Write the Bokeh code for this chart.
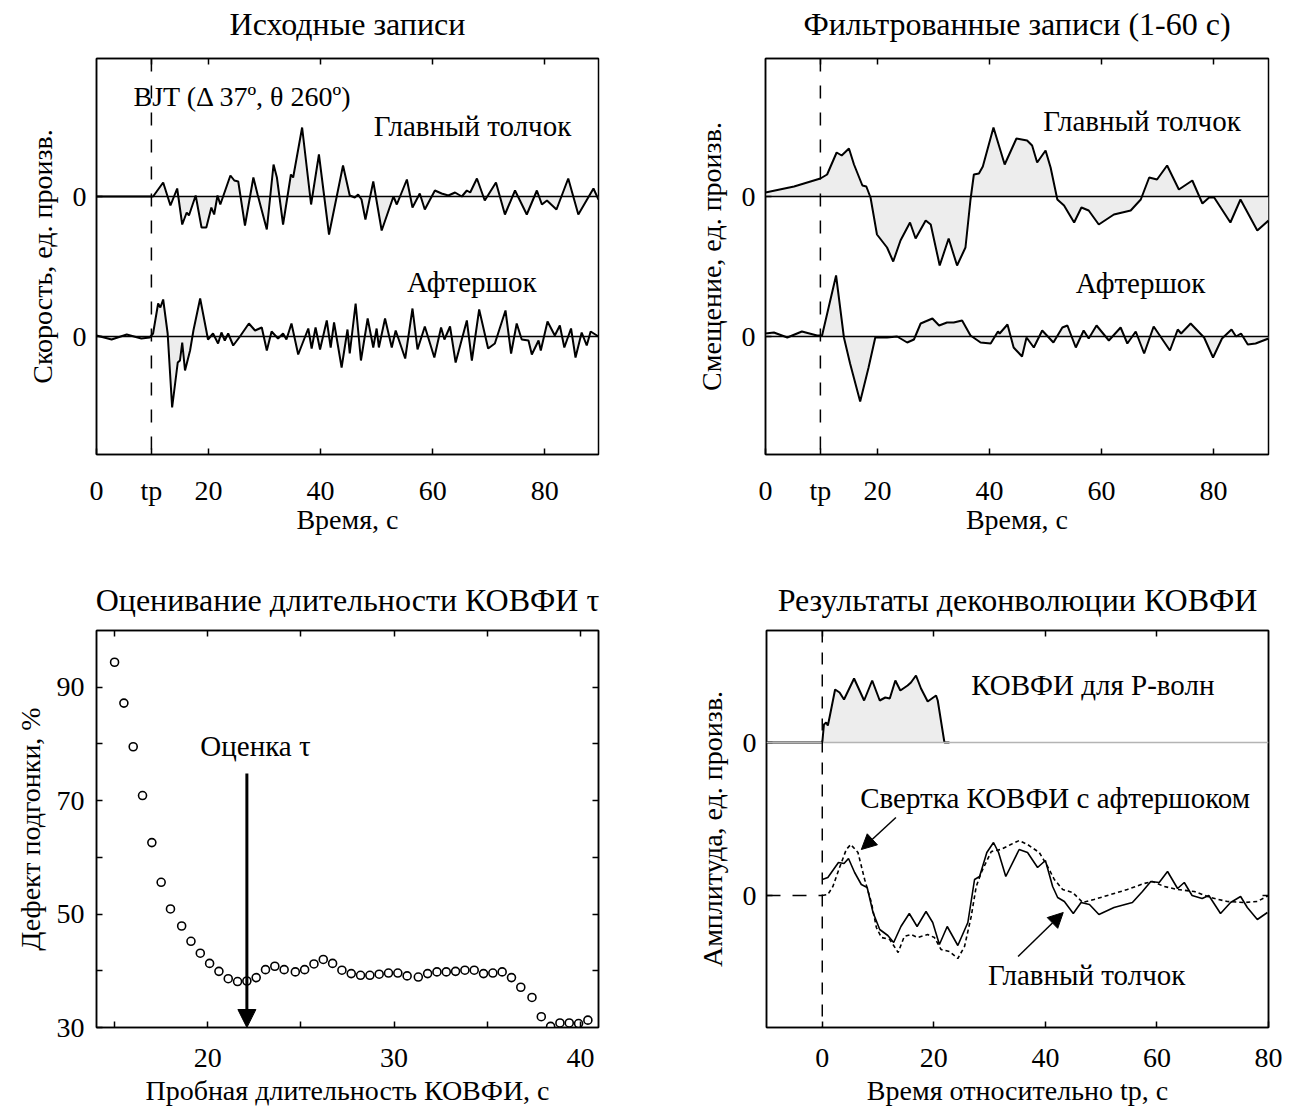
from bokeh.plotting import figure
from bokeh.layouts import row, column
from bokeh.models import Range1d, FixedTicker, LinearAxis, Span, Label, Arrow, NormalHead
from bokeh.embed import file_html
from bokeh.resources import INLINE

FONT = "Liberation Serif"
TP = 9.8          # P-wave arrival time, s
MAIN_OFF = 1.4    # vertical offset of the main-shock trace (top panels)
STF_OFF = 1.53    # vertical offset of the STF trace (bottom-right panel)
TAU_EST = 22.1    # estimated STF duration, s
FILL = "#ededed"

TITLES = ["Исходные записи", "Фильтрованные записи (1-60 с)",
          "Оценивание длительности КОВФИ τ", "Результаты деконволюции КОВФИ"]

# ---------------- Panel 1: raw records (velocity) ----------------
raw_main_t = [0, 9.5, 10.1, 11.9, 13.2, 14.4, 15.3, 16.1, 16.5, 17.7, 18.75, 19.6, 20.5, 21.0, 21.6, 22.1,
              23.9, 24.6, 25.3, 26.5, 28.0, 28.75, 30.4, 31.6, 32.2, 33.3, 34.7, 35.1, 36.7, 38.3, 39.7,
              41.5, 44.0, 45.2, 46.1, 46.7, 47.3, 48.0, 49.4, 50.9, 53.0, 53.6, 55.4, 56.4, 57.7, 58.6,
              60.4, 61.6, 62.8, 64.0, 65.2, 66.1, 66.7, 67.9, 69.3, 71.3, 72.9, 74.7, 76.8, 78.6, 79.5,
              80.4, 82.1, 84.2, 86.0, 88.7, 89.6]
raw_main_v = [0, 0, 0, 0.14, -0.09, 0.08, -0.28, -0.16, -0.19, 0.01, -0.31, -0.31, -0.11, -0.18, 0.01, -0.08,
              0.21, 0.16, 0.15, -0.29, 0.19, 0.02, -0.33, 0.32, 0.19, -0.28, 0.22, 0.19, 0.69, -0.08, 0.42,
              -0.38, 0.31, 0.01, -0.01, 0.02, -0.03, -0.23, 0.15, -0.34, 0.0, -0.08, 0.17, -0.11, 0.03, -0.13,
              0.06, 0.03, 0.01, 0.04, 0.0, 0.06, 0.04, 0.18, -0.04, 0.14, -0.18, 0.06, -0.18, 0.06, -0.08,
              -0.04, -0.13, 0.18, -0.18, 0.08, -0.03]

raw_after_t = [0, 2.7, 5.4, 8.0, 9.5, 10.1, 11.0, 11.4, 11.9, 12.7, 13.5, 14.5, 14.9, 15.3, 15.8, 16.7, 17.3,
               18.5, 19.6, 19.9, 20.8, 21.7, 22.3, 22.9, 23.5, 24.4, 25.6, 27.2, 28.3, 29.5, 30.4, 31.25,
               32.4, 33.3, 33.9, 34.8, 36.0, 37.8, 38.4, 39.1, 39.9, 41.1, 41.8, 42.4, 43.75, 44.8, 45.2,
               46.25, 47.2, 48.4, 49.4, 50.0, 50.4, 51.5, 52.7, 53.4, 55.1, 56.4, 57.3, 58.6, 60.3, 61.5,
               62.1, 63.1, 64.1, 66.1, 67.0, 68.3, 69.9, 71.1, 73.0, 74.0, 75.0, 75.9, 77.1, 77.7, 78.9,
               79.3, 80.5, 81.8, 82.7, 83.5, 84.7, 85.5, 86.6, 87.5, 88.2, 89.6]
raw_after_v = [0.01, -0.03, 0.02, -0.02, -0.01, 0.03, 0.33, 0.29, 0.37, 0.03, -0.71, -0.26, -0.24, -0.06, -0.34,
               -0.14, 0.06, 0.38, 0.06, -0.03, 0.03, -0.07, 0.04, -0.04, 0.03, -0.09, 0.0, 0.13, 0.06, 0.09,
               -0.14, 0.05, -0.02, 0.03, -0.03, 0.13, -0.18, 0.08, -0.12, 0.09, -0.13, 0.16, -0.11, 0.14,
               -0.31, 0.07, -0.17, 0.33, -0.24, 0.18, -0.11, 0.08, -0.11, 0.18, -0.11, 0.06, -0.22, 0.28,
               -0.13, 0.10, -0.21, 0.09, -0.03, 0.10, -0.26, 0.16, -0.24, 0.27, -0.12, -0.07, 0.26, -0.17,
               0.13, -0.03, -0.04, -0.18, -0.04, -0.14, 0.15, 0.01, 0.11, -0.11, 0.08, -0.21, 0.04, -0.09,
               0.05, 0.0]

# ---------------- Panel 2: filtered records (displacement) ----------------
flt_main_t = [0, 5.1, 9.8, 11.0, 12.7, 13.6, 14.9, 15.8, 17.3, 18.0, 18.75, 19.9, 21.7, 22.8, 24.1, 25.8,
              26.8, 28.6, 29.5, 31.1, 32.7, 34.2, 35.7, 36.6, 37.2, 38.1, 38.8, 40.7, 42.7, 44.8, 46.7,
              47.6, 48.5, 50.0, 50.9, 52.1, 53.3, 55.1, 56.4, 57.7, 59.5, 62.2, 65.2, 67.0, 68.5, 69.9,
              71.7, 73.8, 76.2, 78.0, 79.2, 80.1, 83.0, 84.8, 87.8, 89.8]
flt_main_v = [0.04, 0.10, 0.18, 0.22, 0.44, 0.41, 0.48, 0.32, 0.11, 0.10, -0.01, -0.38, -0.51, -0.65, -0.44,
              -0.26, -0.42, -0.24, -0.28, -0.69, -0.42, -0.69, -0.51, -0.03, 0.22, 0.23, 0.30, 0.69, 0.32,
              0.58, 0.56, 0.51, 0.34, 0.46, 0.29, -0.03, -0.09, -0.26, -0.11, -0.14, -0.28, -0.18, -0.14,
              -0.03, 0.19, 0.17, 0.31, 0.07, 0.16, -0.07, -0.01, -0.01, -0.26, -0.03, -0.34, -0.24]

flt_after_t = [0, 1.5, 3.9, 6.5, 9.2, 10.1, 12.6, 14.0, 15.1, 16.9, 18.4, 19.6, 21.7, 23.5, 25.3, 26.5,
               27.7, 29.8, 31.0, 32.4, 33.6, 35.1, 36.6, 38.4, 40.2, 41.5, 41.8, 43.2, 44.3, 45.8, 46.6,
               47.9, 49.4, 51.4, 53.0, 53.9, 55.4, 56.8, 57.7, 59.1, 61.3, 63.4, 64.6, 66.1, 67.6, 69.3,
               72.2, 73.6, 74.2, 75.9, 78.3, 79.9, 81.5, 83.2, 84.0, 84.9, 86.1, 87.5, 89.8]
flt_after_v = [0.03, 0.04, -0.01, 0.05, 0.01, 0.01, 0.61, -0.01, -0.27, -0.65, -0.31, -0.01, -0.01, 0.0,
               -0.06, -0.03, 0.13, 0.18, 0.11, 0.14, 0.14, 0.16, 0.01, -0.06, -0.07, 0.05, 0.03, 0.12,
               -0.11, -0.20, -0.01, -0.11, 0.06, -0.06, 0.09, 0.11, -0.11, 0.06, -0.02, 0.11, -0.04, 0.09,
               -0.07, 0.05, -0.17, 0.10, -0.14, 0.07, 0.03, 0.13, -0.01, -0.21, -0.02, 0.07, 0.0, 0.03,
               -0.08, -0.07, -0.02]

# ---------------- Panel 3: misfit vs trial duration ----------------
trial_dur = [15.0, 15.5, 16.0, 16.5, 17.0, 17.5, 18.0, 18.6, 19.1, 19.6, 20.1, 20.6, 21.1, 21.6, 22.1,
             22.6, 23.1, 23.6, 24.1, 24.7, 25.2, 25.7, 26.2, 26.7, 27.2, 27.7, 28.2, 28.7, 29.2, 29.7,
             30.2, 30.7, 31.3, 31.8, 32.3, 32.8, 33.3, 33.8, 34.3, 34.8, 35.3, 35.8, 36.3, 36.8, 37.4,
             37.9, 38.4, 38.9, 39.4, 39.9, 40.4]
misfit = [94.4, 87.2, 79.5, 70.9, 62.6, 55.6, 50.9, 47.9, 45.2, 43.1, 41.3, 39.9, 38.6, 38.1, 38.2,
          38.8, 40.2, 40.8, 40.2, 39.8, 40.2, 41.2, 42.0, 41.3, 40.1, 39.5, 39.2, 39.2, 39.4, 39.6,
          39.6, 39.1, 38.9, 39.5, 39.8, 39.8, 39.9, 40.1, 40.1, 39.5, 39.6, 39.8, 38.8, 37.1, 35.3,
          31.9, 30.2, 30.8, 30.8, 30.7, 31.3]

# ---------------- Panel 4: deconvolution results ----------------
stf_t = [-10, 0, 0.3, 0.7, 1.0, 1.3, 2.3, 3.1, 3.9, 5.7, 7.5, 8.95, 10.3, 11.3, 12.1, 13.1, 14.0, 15.3,
         15.9, 16.8, 17.7, 18.9, 20.4, 20.7, 21.9, 22.8]
stf_v = [0, 0, 0.18, 0.20, 0.17, 0.25, 0.53, 0.50, 0.43, 0.64, 0.42, 0.62, 0.42, 0.45, 0.44, 0.62, 0.52,
         0.57, 0.60, 0.67, 0.54, 0.41, 0.47, 0.42, 0.0, 0.0]

dec_main_t = [0, 1.0, 2.9, 3.9, 4.7, 5.8, 7.0, 8.05, 9.1, 10.3, 11.75, 12.8, 14.1, 15.6, 17.0, 18.6, 19.8,
              21.0, 22.4, 23.0, 24.3, 26.1, 27.3, 28.2, 29.5, 30.7, 31.6, 32.9, 35.3, 36.8, 38.6, 40.0,
              41.3, 42.2, 43.4, 45.0, 46.4, 47.9, 49.6, 52.3, 55.6, 57.4, 58.9, 60.4, 61.9, 63.7, 64.9,
              66.3, 68.1, 69.3, 71.4, 73.2, 75.0, 76.2, 78.0, 79.8]
dec_main_v = [0.16, 0.18, 0.33, 0.32, 0.37, 0.23, 0.11, 0.08, -0.17, -0.34, -0.40, -0.47, -0.31, -0.18,
              -0.31, -0.16, -0.27, -0.49, -0.31, -0.37, -0.50, -0.27, 0.16, 0.19, 0.43, 0.53, 0.43, 0.19,
              0.46, 0.43, 0.28, 0.35, 0.09, -0.02, -0.06, -0.18, -0.07, -0.09, -0.19, -0.12, -0.07, 0.04,
              0.14, 0.13, 0.24, 0.07, 0.13, 0.0, -0.03, 0.0, -0.18, -0.07, -0.01, -0.12, -0.24, -0.17]

conv_t = [-10, 0, 1.0, 1.9, 3.1, 4.3, 5.1, 6.4, 7.6, 8.8, 9.7, 10.6, 12.1, 13.6, 14.7, 15.9, 17.1, 18.9,
          20.1, 21.3, 22.8, 24.3, 25.5, 26.7, 27.6, 28.5, 30.3, 32.0, 33.8, 35.3, 36.8, 38.9, 40.4, 41.6,
          43.1, 44.9, 46.7, 48.7, 51.7, 54.7, 57.7, 59.2, 61.3, 63.7, 66.7, 69.6, 72.6, 75.6, 78.0, 80.0]
conv_v = [0, 0, 0.01, 0.09, 0.28, 0.46, 0.51, 0.43, 0.16, -0.07, -0.32, -0.42, -0.44, -0.57, -0.41, -0.39,
          -0.42, -0.39, -0.42, -0.54, -0.56, -0.63, -0.51, -0.21, 0.09, 0.23, 0.44, 0.46, 0.51, 0.55,
          0.51, 0.43, 0.29, 0.16, 0.06, 0.03, -0.07, -0.04, 0.01, 0.06, 0.12, 0.14, 0.09, 0.06, 0.04,
          -0.02, -0.06, -0.07, -0.06, 0.0]


def base_fig(title, xr, yr, fw, fh, bl, br, bt, bb, standoff, offset=0):
    p = figure(title=title, x_range=Range1d(*xr), y_range=Range1d(*yr),
               frame_width=fw, frame_height=fh,
               min_border_left=bl, min_border_right=br, min_border_top=bt, min_border_bottom=bb,
               output_backend="svg", toolbar_location=None)
    p.title.text_font = FONT
    p.title.text_font_size = "32px"
    p.title.text_font_style = "normal"
    p.title.text_color = "black"
    p.title.align = "center"
    p.title.standoff = standoff
    p.title.offset = offset
    p.grid.visible = False
    p.outline_line_color = "black"
    p.outline_line_width = 1.5
    p.background_fill_color = "white"
    p.border_fill_color = "white"
    return p


def style_axis(ax, standoff=10, label_standoff=6):
    ax.axis_line_width = 1.5
    ax.axis_line_color = "black"
    ax.major_tick_in = 6
    ax.major_tick_out = 0
    ax.major_tick_line_width = 1.5
    ax.major_tick_line_color = "black"
    ax.minor_tick_line_color = None
    ax.major_label_text_font = FONT
    ax.major_label_text_font_size = "28px"
    ax.major_label_text_color = "black"
    ax.major_label_standoff = standoff
    ax.axis_label_text_font = FONT
    ax.axis_label_text_font_size = "28px"
    ax.axis_label_text_font_style = "normal"
    ax.axis_label_text_color = "black"
    ax.axis_label_standoff = label_standoff


def mirror(p, ticks, side):
    ax = LinearAxis(ticker=FixedTicker(ticks=ticks))
    style_axis(ax, standoff=0, label_standoff=0)
    ax.major_label_overrides = {t: "" for t in ticks}
    ax.major_label_text_font_size = "1px"
    p.add_layout(ax, side)


def label(p, x, y, text, size="29px"):
    p.add_layout(Label(x=x, y=y, text=text, text_font=FONT, text_font_size=size,
                       text_baseline="middle", text_align="left", text_color="black"))


def trace_panel(ttl, off, ylabel, xmax, main_t, main_v, after_t, after_v, bl, br, fw, texts):
    p = base_fig(ttl, (0, xmax), (-1.18, 2.78), fw, 396, bl, br, 74, 110, 34, off)
    style_axis(p.xaxis[0], standoff=20, label_standoff=-5)
    style_axis(p.yaxis[0], standoff=10, label_standoff=12)
    p.xaxis.ticker = FixedTicker(ticks=[0, TP, 20, 40, 60, 80])
    p.xaxis.major_label_overrides = {TP: "tp"}
    p.xaxis.axis_label = "Время, с"
    p.yaxis.ticker = FixedTicker(ticks=[0, MAIN_OFF])
    p.yaxis.major_label_overrides = {0: "0", MAIN_OFF: "0"}
    p.yaxis.axis_label = ylabel
    mirror(p, [TP, 20, 40, 60, 80], "above")
    main_y = [MAIN_OFF + v for v in main_v]
    p.varea(x=main_t, y1=[MAIN_OFF] * len(main_t), y2=main_y, fill_color=FILL)
    p.varea(x=after_t, y1=[0] * len(after_t), y2=after_v, fill_color=FILL)
    p.add_layout(Span(location=MAIN_OFF, dimension="width", line_color="black", line_width=1.5))
    p.add_layout(Span(location=0, dimension="width", line_color="black", line_width=1.5))
    p.add_layout(Span(location=TP, dimension="height", line_color="black", line_width=1.5,
                      line_dash="13 14"))
    p.line(main_t, main_y, line_color="black", line_width=2)
    p.line(after_t, after_v, line_color="black", line_width=2)
    for (x, y, t, s) in texts:
        label(p, x, y, t, s)
    return p


p1 = trace_panel(TITLES[0], 0, "Скорость, ед. произв.", 89.6,
                 raw_main_t, raw_main_v, raw_after_t, raw_after_v, 96, 70, 502,
                 [(6.6, 2.40, "BJT (Δ 37º, θ 260º)", "28px"), (49.5, 2.11, "Главный толчок", "29px"),
                  (55.4, 0.55, "Афтершок", "29px")])
p2 = trace_panel(TITLES[1], 14, "Смещение, ед. произв.", 89.8,
                 flt_main_t, flt_main_v, flt_after_t, flt_after_v, 97, 22, 503,
                 [(49.6, 2.16, "Главный толчок", "29px"), (55.4, 0.54, "Афтершок", "29px")])

# ---------------- Panel 3 ----------------
p3 = base_fig(TITLES[2], (14.03, 40.97), (30, 100), 502, 397, 96, 70, 66, 86, 26, 8)
style_axis(p3.xaxis[0], standoff=21, label_standoff=5)
style_axis(p3.yaxis[0], standoff=12, label_standoff=8)
p3.xaxis.ticker = FixedTicker(ticks=[15, 20, 25, 30, 35, 40])
p3.xaxis.major_label_overrides = {15: "", 25: "", 35: ""}
p3.xaxis.axis_label = "Пробная длительность КОВФИ, с"
p3.yaxis.ticker = FixedTicker(ticks=[30, 40, 50, 60, 70, 80, 90])
p3.yaxis.major_label_overrides = {40: "", 60: "", 80: ""}
p3.yaxis.axis_label = "Дефект подгонки, %"
mirror(p3, [15, 20, 25, 30, 35, 40], "above")
mirror(p3, [40, 50, 60, 70, 80, 90], "right")
p3.scatter(trial_dur, misfit, marker="circle", size=8, fill_color="white", line_color="black",
           line_width=1.6)
p3.add_layout(Arrow(end=NormalHead(size=18, fill_color="black", line_color="black", line_width=1),
                    x_start=TAU_EST, y_start=74.8, x_end=TAU_EST, y_end=30, line_width=3,
                    line_color="black"))
label(p3, 19.6, 79.7, "Оценка τ")

# ---------------- Panel 4 ----------------
p4 = base_fig(TITLES[3], (-10, 80), (-1.32, 2.65), 502, 397, 98, 22, 66, 86, 26, 8)
style_axis(p4.xaxis[0], standoff=21, label_standoff=5)
style_axis(p4.yaxis[0], standoff=10, label_standoff=12)
p4.xaxis.ticker = FixedTicker(ticks=[0, 20, 40, 60, 80])
p4.xaxis.axis_label = "Время относительно tp, с"
p4.yaxis.ticker = FixedTicker(ticks=[0, STF_OFF])
p4.yaxis.major_label_overrides = {0: "0", STF_OFF: "0"}
p4.yaxis.axis_label = "Амплитуда, ед. произв."
mirror(p4, [0, 20, 40, 60], "above")
mirror(p4, [0], "right")
stf_y = [STF_OFF + v for v in stf_v]
p4.varea(x=stf_t, y1=[STF_OFF] * len(stf_t), y2=stf_y, fill_color=FILL)
p4.add_layout(Span(location=STF_OFF, dimension="width", line_color="#b4b4b4", line_width=1.5))
p4.add_layout(Span(location=0, dimension="height", line_color="black", line_width=1.5,
                   line_dash="12 10"))
p4.line(stf_t, stf_y, line_color="black", line_width=2)
p4.line(conv_t[:2], conv_v[:2], line_color="black", line_width=1.5, line_dash="14 12")
p4.line(conv_t[1:], conv_v[1:], line_color="black", line_width=1.6, line_dash="4 3")
p4.line(dec_main_t, dec_main_v, line_color="black", line_width=1.6)
p4.add_layout(Arrow(end=NormalHead(size=15, fill_color="black", line_color="black", line_width=1),
                    x_start=13.2, y_start=0.78, x_end=7.0, y_end=0.46, line_width=1.5,
                    line_color="black"))
p4.add_layout(Arrow(end=NormalHead(size=15, fill_color="black", line_color="black", line_width=1),
                    x_start=35.1, y_start=-0.61, x_end=43.2, y_end=-0.17, line_width=1.5,
                    line_color="black"))
label(p4, 26.7, 2.11, "КОВФИ для P-волн")
label(p4, 6.8, 0.98, "Свертка КОВФИ с афтершоком")
label(p4, 29.7, -0.79, "Главный толчок")

layout = column(row(p1, p2), row(p3, p4), margin=(-16, 0, 0, 0))
open("out.html", "w").write(file_html(layout, INLINE))
